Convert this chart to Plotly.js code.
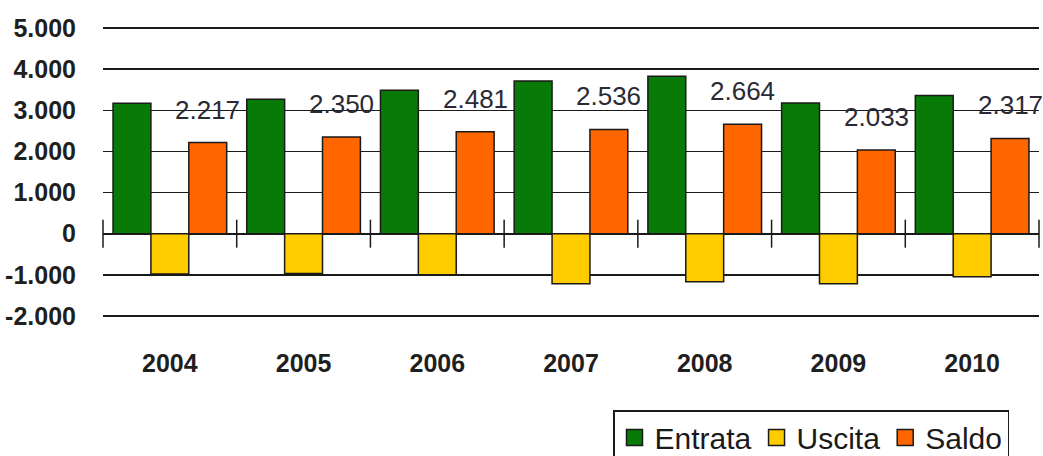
<!DOCTYPE html>
<html>
<head>
<meta charset="utf-8">
<script src="https://cdn.plot.ly/plotly-3.0.1.min.js"></script>
<style>
  html, body { margin: 0; padding: 0; background: #ffffff; }
  #chart { width: 1043px; height: 456px; }
</style>
</head>
<body>
<div id="chart"></div>
<script>
// Flussi annui: entrate, uscite e saldo
const years   = ['2004', '2005', '2006', '2007', '2008', '2009', '2010'];
const entrata = [3170, 3270, 3490, 3710, 3830, 3180, 3360];
const uscita  = [-980, -970, -1000, -1220, -1170, -1220, -1050];
const saldo   = [2217, 2350, 2481, 2536, 2664, 2033, 2317];

const seriesNames = ['Entrata', 'Uscita', 'Saldo'];
const yTicks = [-2000, -1000, 0, 1000, 2000, 3000, 4000, 5000];
const yRange = [-2050, 5050];

const colors = { Entrata: '#087a08', Uscita: '#ffcc00', Saldo: '#ff6600' };
const FONT = 'Liberation Sans, Arial, sans-serif';

// Italian-style number: dot as thousands separator, plain hyphen for minus
function fmt(v) {
  const s = Math.abs(v).toString().replace(/\B(?=(\d{3})+(?!\d))/g, '.');
  return (v < 0 ? '-' : '') + s;
}

const W = 1043, H = 456;
const margin = { l: 103, r: 4, t: 26, b: 138, autoexpand: false };
const bargap = 0.15;

// Years sit on integer positions; group boundaries fall halfway between
const pos = years.map((_, i) => i);
const boundaries = pos.map(p => p - 0.5).concat([pos.length - 0.5]);

const values = { Entrata: entrata, Uscita: uscita, Saldo: saldo };
const outline = { color: '#1a1a1a', width: 1.5 };

const traces = seriesNames.map(name => ({
  type: 'bar',
  name: name,
  x: pos,
  y: values[name],
  marker: { color: colors[name], line: outline },
  showlegend: false,
  hovertemplate: name + ' %{y}<extra></extra>'
}));

// Short vertical ticks crossing the zero line at each group boundary
traces.push({
  type: 'scatter',
  mode: 'markers',
  x: boundaries,
  y: boundaries.map(() => 0),
  marker: { symbol: 'line-ns', size: 20, line: { color: '#1a1a1a', width: 1.5 } },
  showlegend: false,
  hoverinfo: 'skip',
  cliponaxis: false
});

// Legend entries with larger square swatches
seriesNames.forEach(name => {
  traces.push({
    type: 'scatter',
    mode: 'markers',
    name: name,
    x: [null],
    y: [null],
    marker: { symbol: 'square', size: 16, color: colors[name], line: { color: '#1a1a1a', width: 1.5 } },
    showlegend: true,
    hoverinfo: 'skip'
  });
});

// Saldo value labels sit above the third bar of each group
const plotW = W - margin.l - margin.r;
const plotH = H - margin.t - margin.b;
const barPx = plotW / years.length * (1 - bargap) / seriesNames.length;
const annotations = pos.map((p, i) => ({
  x: p,
  y: saldo[i],
  xref: 'x',
  yref: 'y',
  text: fmt(saldo[i]),
  showarrow: false,
  xshift: barPx,
  yshift: 33,
  yanchor: 'middle',
  font: { family: FONT, size: 26, color: '#2a2a35' }
}));

const layout = {
  width: W,
  height: H,
  margin: margin,
  paper_bgcolor: '#ffffff',
  plot_bgcolor: '#ffffff',
  barmode: 'group',
  bargap: bargap,
  bargroupgap: 0,
  showlegend: true,
  legend: {
    orientation: 'h',
    x: (613 - margin.l) / plotW,
    xanchor: 'left',
    y: (H - margin.b - 410) / plotH,
    yanchor: 'top',
    bordercolor: '#1a1a1a',
    borderwidth: 1.5,
    bgcolor: '#ffffff',
    font: { family: FONT, size: 30, color: '#1a1a1a' },
    itemclick: false,
    itemdoubleclick: false
  },
  xaxis: {
    type: 'linear',
    range: [-0.5, years.length - 0.5],
    tickmode: 'array',
    tickvals: pos,
    ticktext: years,
    showgrid: false,
    zeroline: false,
    showline: false,
    ticks: '',
    ticklabelstandoff: 28,
    tickfont: { family: FONT, size: 25, color: '#1f1f1f', weight: 'bold' },
    fixedrange: true
  },
  yaxis: {
    range: yRange,
    tickmode: 'array',
    tickvals: yTicks,
    ticktext: yTicks.map(fmt),
    showgrid: true,
    gridcolor: '#1a1a1a',
    gridwidth: 1.5,
    zeroline: true,
    zerolinecolor: '#1a1a1a',
    zerolinewidth: 2,
    showline: false,
    ticks: '',
    ticklabelstandoff: 26,
    tickfont: { family: FONT, size: 25, color: '#1f1f1f', weight: 'bold' },
    fixedrange: true
  },
  annotations: annotations
};

Plotly.newPlot('chart', traces, layout, { displayModeBar: false, staticPlot: true });
</script>
</body>
</html>
